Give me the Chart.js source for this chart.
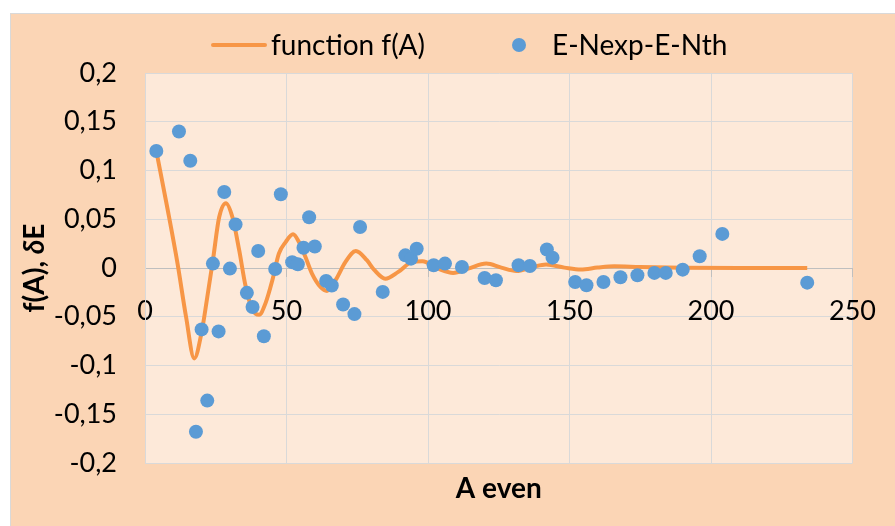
<!DOCTYPE html>
<html><head><meta charset="utf-8">
<script src="https://cdn.jsdelivr.net/npm/chart.js@4"></script>
<style>html,body{margin:0;padding:0;background:#fff;overflow:hidden}#wrap{width:895px;height:526px;position:relative}</style>
</head><body><div id="wrap"><canvas id="c" width="895" height="526"></canvas></div>
<script>
// ---- data ----
const lineA = [4, 8, 11.5, 14.5, 17.4, 20, 22, 24, 26.2, 28.6, 30.9, 33.3, 35.5, 38, 40.3, 42.6, 45, 47.3, 49.7, 52.3, 54.4, 56.7, 59, 62, 64.3, 67.3, 70.8, 74.5, 78.4, 81, 84.9, 89.5, 94.2, 98, 103.6, 108.9, 114.2, 120.6, 125.9, 131.2, 137, 141.7, 148.2, 154, 159.9, 165.8, 175, 190, 210, 234];
const lineF = [0.12, 0.06, 0.0045, -0.05, -0.0927, -0.066, -0.03, 0.008, 0.052, 0.0665, 0.052, 0.018, -0.018, -0.043, -0.048, -0.036, -0.0126, 0.0147, 0.0266, 0.0345, 0.0266, 0.0112, -0.0057, -0.0194, -0.0235, -0.0126, 0.006, 0.0174, 0.008, -0.002, -0.011, -0.004, 0.006, 0.007, -0.0007, -0.005, -0.0007, 0.0045, 0.0004, -0.003, 0.001, 0.0035, 0.0004, -0.0016, 0.0004, 0.0017, 0.001, 0.0003, 0, 0];
const pointA = [4, 12, 16, 18, 20, 22, 24, 26, 28, 30, 32, 36, 38, 40, 42, 46, 48, 52, 54, 56, 58, 60, 64, 66, 70, 74, 76, 84, 92, 94, 96, 102, 106, 112, 120, 124, 132, 136, 142, 144, 152, 156, 162, 168, 174, 180, 184, 190, 196, 204, 234];
const pointDE = [0.12, 0.14, 0.11, -0.168, -0.063, -0.136, 0.0045, -0.065, 0.078, -0.0006, 0.0447, -0.0255, -0.040, 0.0174, -0.070, -0.001, 0.0757, 0.006, 0.0038, 0.0208, 0.052, 0.022, -0.0133, -0.018, -0.0375, -0.0473, 0.042, -0.0245, 0.013, 0.0096, 0.0198, 0.0028, 0.0045, 0.001, -0.0102, -0.0126, 0.0028, 0.002, 0.019, 0.0106, -0.0143, -0.0177, -0.0143, -0.0095, -0.0075, -0.005, -0.005, -0.0017, 0.012, 0.035, -0.015];
const xTicks = [0, 50, 100, 150, 200, 250];
const yTicks = [-0.2, -0.15, -0.1, -0.05, 0, 0.05, 0.1, 0.15, 0.2];
const seriesNames = ['function f(A)', 'E-Nexp-E-Nth'];
const xTitle = 'A even';
const yTitleParts = ['f(A), ', 'δ', 'E'];

const ORANGE = '#F79646', BLUE = '#5B9BD5';
const FONT = 'Lato, "Open Sans", sans-serif';

const bgPlugin = {
  id: 'bg',
  beforeDraw(chart) {
    const ctx = chart.ctx, a = chart.chartArea;
    ctx.save();
    ctx.fillStyle = '#ffffff';
    ctx.fillRect(0, 0, chart.width, chart.height);
    ctx.fillStyle = '#FBD5B5';
    ctx.fillRect(10, 13, chart.width - 10, chart.height - 13);
    ctx.strokeStyle = '#D9D9D9';
    ctx.lineWidth = 1;
    ctx.beginPath();
    ctx.moveTo(10.5, chart.height); ctx.lineTo(10.5, 13.5); ctx.lineTo(chart.width, 13.5);
    ctx.stroke();
    ctx.fillStyle = '#FDE9D9';
    ctx.fillRect(a.left, a.top, a.right - a.left, a.bottom - a.top);
    ctx.restore();
  }
};

const textPlugin = {
  id: 'texts',
  afterDraw(chart) {
    const ctx = chart.ctx, a = chart.chartArea;
    ctx.save();
    // legend
    ctx.textBaseline = 'middle';
    ctx.fillStyle = '#000';
    ctx.font = '28px ' + FONT;
    ctx.strokeStyle = ORANGE; ctx.lineWidth = 4; ctx.lineCap = 'round';
    ctx.beginPath(); ctx.moveTo(213, 45); ctx.lineTo(265, 45); ctx.stroke();
    ctx.textAlign = 'left';
    ctx.fillText(seriesNames[0], 271, 46);
    ctx.fillStyle = BLUE;
    ctx.beginPath(); ctx.arc(519, 45, 7, 0, Math.PI * 2); ctx.fill();
    ctx.fillStyle = '#000';
    ctx.fillText(seriesNames[1], 552, 46);
    // x title
    ctx.font = 'bold 28px ' + FONT;
    ctx.textAlign = 'center';
    ctx.fillText(xTitle, (a.left + a.right) / 2, 489);
    // y title
    ctx.translate(34, (a.top + a.bottom) / 2);
    ctx.rotate(-Math.PI / 2);
    const fonts = ['bold 28px ' + FONT, 'italic bold 28px ' + FONT, 'bold 28px ' + FONT];
    let widths = yTitleParts.map((t, i) => { ctx.font = fonts[i]; return ctx.measureText(t).width; });
    let total = widths.reduce((s, w) => s + w, 0);
    let x = -total / 2;
    ctx.textAlign = 'left';
    yTitleParts.forEach((t, i) => { ctx.font = fonts[i]; ctx.fillText(t, x, 1); x += widths[i]; });
    ctx.restore();
  }
};

new Chart(document.getElementById('c'), {
  type: 'scatter',
  data: {
    datasets: [
      {
        label: seriesNames[0],
        data: lineA.map((a, i) => ({ x: a, y: lineF[i] })),
        showLine: true,
        borderColor: ORANGE,
        backgroundColor: ORANGE,
        borderWidth: 4,
        pointRadius: 0,
        pointHoverRadius: 0,
        cubicInterpolationMode: 'monotone',
        order: 2
      },
      {
        label: seriesNames[1],
        data: pointA.map((a, i) => ({ x: a, y: pointDE[i] })),
        backgroundColor: BLUE,
        borderWidth: 0,
        pointRadius: 7,
        order: 1
      }
    ]
  },
  options: {
    responsive: false,
    devicePixelRatio: 1,
    animation: false,
    events: [],
    layout: { padding: { left: 0, top: 73, right: 39, bottom: 63 } },
    plugins: { legend: { display: false }, tooltip: { enabled: false }, title: { display: false } },
    scales: {
      x: {
        type: 'linear',
        position: { y: 0 },
        min: 0, max: 250,
        afterBuildTicks: s => { s.ticks = xTicks.map(v => ({ value: v })); },
        grid: { color: '#D9D9D9', lineWidth: 1, drawTicks: true, tickLength: 8, tickColor: '#BFBFBF' },
        border: { display: true, color: '#BFBFBF', width: 1 },
        ticks: { color: '#000', font: { family: FONT, size: 27 }, padding: 19, maxRotation: 0, callback: v => String(v) }
      },
      y: {
        type: 'linear',
        position: 'left',
        min: -0.2, max: 0.2,
        afterBuildTicks: s => { s.ticks = yTicks.map(v => ({ value: v })); },
        afterFit: s => { s.width = 145; },
        grid: { color: '#D9D9D9', lineWidth: 1, drawTicks: false },
        border: { display: true, color: '#D9D9D9', width: 1 },
        ticks: { color: '#000', font: { family: FONT, size: 27 }, padding: 28,
          callback: v => String(Math.round(v * 100) / 100).replace('.', ',') }
      }
    }
  },
  plugins: [bgPlugin, textPlugin]
});
</script></body></html>
